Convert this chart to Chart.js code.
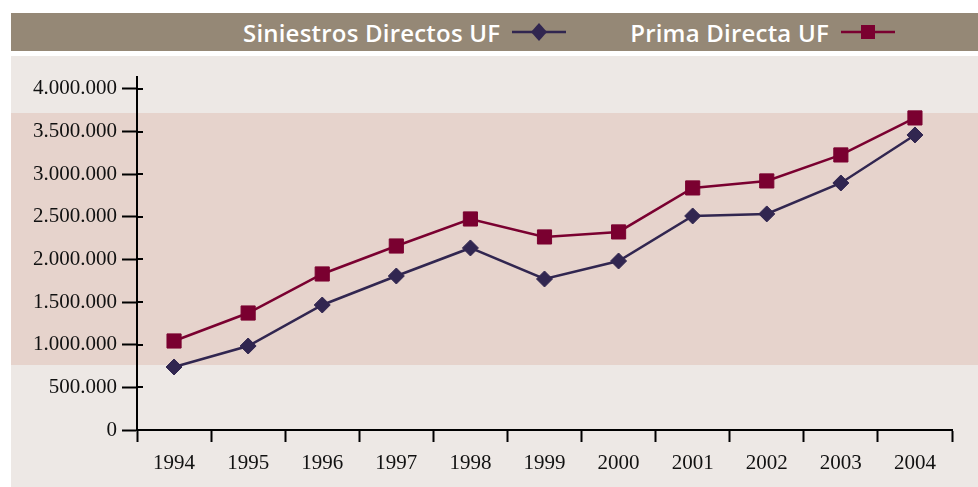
<!DOCTYPE html>
<html>
<head>
<meta charset="utf-8">
<script src="https://cdn.jsdelivr.net/npm/chart.js@4.4.1/dist/chart.umd.min.js"></script>
<style>
    body { margin: 0; background: #ffffff; width: 978px; height: 487px; overflow: hidden; position: relative; }
    #legend {
        position: absolute; left: 11px; top: 13px; width: 967px; height: 38px;
        background: #958876; display: flex; align-items: center;
        font-family: "Open Sans", sans-serif; font-weight: 600; font-size: 24px; color: #ffffff;
        letter-spacing: 0.2px;
    }
    .item { display: flex; align-items: center; }
    .item canvas { margin-left: 12px; }
    #wrap {
        position: absolute; left: 11px; top: 56px; width: 967px; height: 431px;
        background: linear-gradient(to bottom, #ede8e5 0px, #ede8e5 57px, #e6d3cc 57px, #e6d3cc 309px, #ede8e5 309px);
    }
</style>
</head>
<body>
<div id="legend"></div>
<div id="wrap"><canvas id="line-chart" width="967" height="431"></canvas></div>
<script>
const years = ['1994', '1995', '1996', '1997', '1998', '1999', '2000', '2001', '2002', '2003', '2004'];
const siniestros = [739000, 985000, 1466000, 1806000, 2135000, 1771000, 1982000, 2510000, 2534000, 2897000, 3460000];
const prima = [1044000, 1372000, 1830000, 2158000, 2475000, 2264000, 2323000, 2839000, 2921000, 3226000, 3660000];
const y_ticks = [0, 500000, 1000000, 1500000, 2000000, 2500000, 3000000, 3500000, 4000000];

function fmt(v) {
    return String(v).replace(/\B(?=(\d{3})+(?!\d))/g, '.');
}

// small ticks that cross the y axis into the plot
const crossTicks = {
    id: 'crossTicks',
    afterDraw(chart) {
        const ctx = chart.ctx;
        const y = chart.scales.y;
        ctx.save();
        ctx.strokeStyle = '#000000';
        ctx.lineWidth = 2;
        y.ticks.forEach(function(t) {
            const py = Math.round(y.getPixelForValue(t.value));
            ctx.beginPath();
            ctx.moveTo(y.right, py);
            ctx.lineTo(y.right + 6, py);
            ctx.stroke();
        });
        ctx.restore();
    }
};

var chrt = document.getElementById('line-chart').getContext('2d');
var chartId = new Chart(chrt, {
    type: 'line',
    data: {
        labels: years,
        datasets: [{
            label: 'Siniestros Directos UF',
            data: siniestros,
            borderColor: '#312650',
            backgroundColor: '#312650',
            borderWidth: 2.5,
            pointStyle: 'rectRot',
            pointRadius: 8,
            pointBorderWidth: 1,
            pointBorderColor: '#312650',
            tension: 0
        }, {
            label: 'Prima Directa UF',
            data: prima,
            borderColor: '#7a0030',
            backgroundColor: '#7a0030',
            borderWidth: 2.5,
            pointStyle: 'rect',
            pointRadius: 10,
            pointBorderWidth: 1,
            pointBorderColor: '#7a0030',
            tension: 0
        }]
    },
    options: {
        responsive: false,
        animation: false,
        layout: { padding: { top: 21, right: 26, left: 0, bottom: 0 } },
        plugins: { legend: { display: false }, tooltip: { enabled: false } },
        scales: {
            x: {
                offset: true,
                grid: { offset: true, drawOnChartArea: false, tickLength: 12, tickWidth: 2, tickColor: '#000000' },
                border: { color: '#000000', width: 2 },
                ticks: { color: '#111111', padding: 9, font: { family: 'Liberation Serif', size: 21 } },
                afterFit: function(scale) { scale.height = 57; }
            },
            y: {
                min: 0,
                max: 4140000,
                afterBuildTicks: function(scale) {
                    scale.ticks = y_ticks.map(function(v) { return { value: v }; });
                },
                grid: { drawOnChartArea: false, tickLength: 15, tickWidth: 2, tickColor: '#000000' },
                border: { color: '#000000', width: 2 },
                ticks: {
                    color: '#111111', padding: 5,
                    font: { family: 'Liberation Serif', size: 21 },
                    callback: function(v) { return fmt(v); }
                },
                afterFit: function(scale) { scale.width = 126; }
            }
        }
    },
    plugins: [crossTicks]
});

// legend band: text then a line with its marker
const legend = document.getElementById('legend');
legend.style.paddingLeft = '232px';
chartId.data.datasets.forEach(function(ds, i) {
    const item = document.createElement('div');
    item.className = 'item';
    if (i > 0) item.style.marginLeft = '64px';
    const txt = document.createElement('span');
    txt.textContent = ds.label;
    item.appendChild(txt);
    const c = document.createElement('canvas');
    c.width = 54; c.height = 20;
    const g = c.getContext('2d');
    g.strokeStyle = ds.borderColor;
    g.lineWidth = 2.5;
    g.beginPath(); g.moveTo(0, 10); g.lineTo(54, 10); g.stroke();
    g.fillStyle = ds.backgroundColor;
    if (ds.pointStyle === 'rectRot') {
        g.beginPath(); g.moveTo(27, 1); g.lineTo(35, 10); g.lineTo(27, 19); g.lineTo(19, 10); g.closePath(); g.fill();
    } else {
        g.fillRect(20, 3, 14, 14);
    }
    item.appendChild(c);
    legend.appendChild(item);
});
</script>
</body>
</html>
